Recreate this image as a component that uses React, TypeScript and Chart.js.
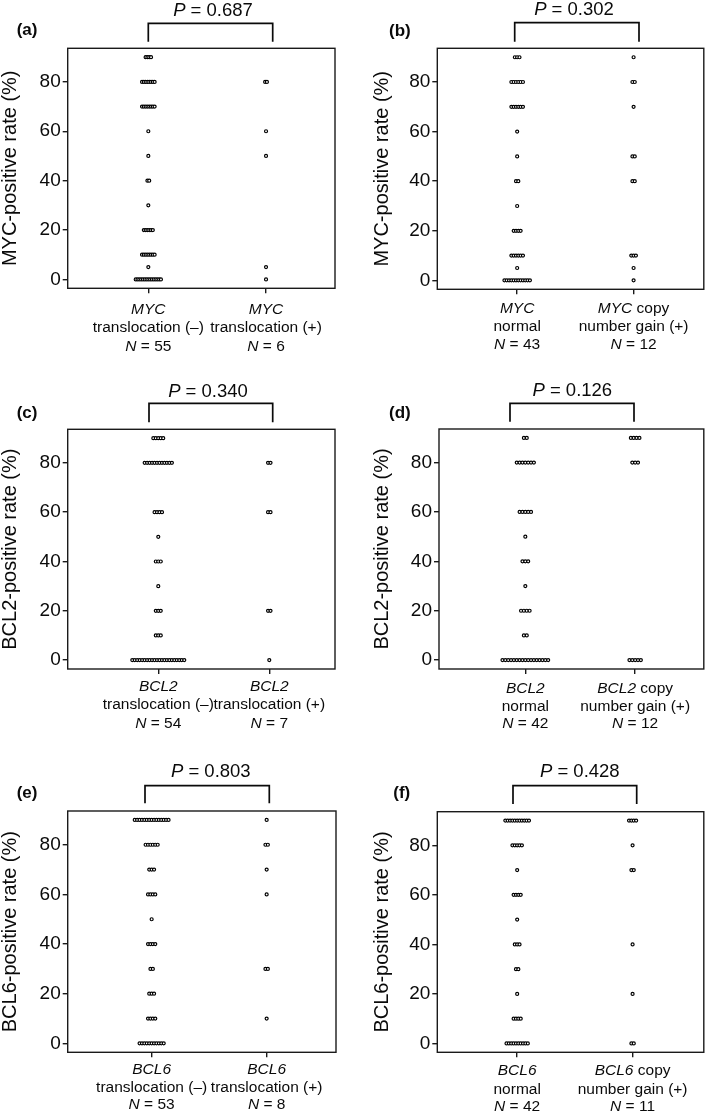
import React, { useEffect, useRef } from 'react';
import { Chart, registerables } from 'chart.js';
Chart.register(...registerables);

const FONT = '"Liberation Sans", Arial, Helvetica, sans-serif';

// ---------- data ----------
const yTicks = [0, 20, 40, 60, 80];
const panelTags = ['(a)', '(b)', '(c)', '(d)', '(e)', '(f)'];
const pValues = ['0.687', '0.302', '0.340', '0.126', '0.803', '0.428'];
const genes = ['MYC', 'MYC', 'BCL2', 'BCL2', 'BCL6', 'BCL6'];
const yTitles = [
  'MYC-positive rate (%)', 'MYC-positive rate (%)',
  'BCL2-positive rate (%)', 'BCL2-positive rate (%)',
  'BCL6-positive rate (%)', 'BCL6-positive rate (%)',
];
const leftGroupText = ['translocation (–)', 'normal', 'translocation (–)', 'normal', 'translocation (–)', 'normal'];
const rightGroupText = ['translocation (+)', 'number gain (+)', 'translocation (+)', 'number gain (+)', 'translocation (+)', 'number gain (+)'];
const rightGroupGeneSuffix = ['', ' copy', '', ' copy', '', ' copy'];
const nLeft = [55, 43, 54, 42, 53, 42];
const nRight = [6, 12, 7, 12, 8, 11];

// (a) MYC translocation
const aLevels1 = [90, 80, 70, 60, 50, 40, 30, 20, 10, 5, 0];
const aCounts1 = [4, 8, 8, 1, 1, 2, 1, 6, 8, 1, 15];
const aLevels2 = [80, 60, 50, 5, 0];
const aCounts2 = [2, 1, 1, 1, 1];
// (b) MYC copy number
const bLevels1 = [90, 80, 70, 60, 50, 40, 30, 20, 10, 5, 0];
const bCounts1 = [3, 6, 6, 1, 1, 2, 1, 4, 6, 1, 12];
const bLevels2 = [90, 80, 70, 50, 40, 10, 5, 0];
const bCounts2 = [1, 2, 1, 2, 2, 3, 1, 1];
// (c) BCL2 translocation
const cLevels1 = [90, 80, 60, 50, 40, 30, 20, 10, 0];
const cCounts1 = [5, 12, 4, 1, 3, 1, 3, 3, 22];
const cLevels2 = [80, 60, 20, 0];
const cCounts2 = [2, 2, 2, 1];
// (d) BCL2 copy number
const dLevels1 = [90, 80, 60, 50, 40, 30, 20, 10, 0];
const dCounts1 = [2, 7, 5, 1, 3, 1, 4, 2, 17];
const dLevels2 = [90, 80, 0];
const dCounts2 = [4, 3, 5];
// (e) BCL6 translocation
const eLevels1 = [90, 80, 70, 60, 50, 40, 30, 20, 10, 0];
const eCounts1 = [15, 6, 3, 4, 1, 4, 2, 3, 4, 11];
const eLevels2 = [90, 80, 70, 60, 30, 10];
const eCounts2 = [1, 2, 1, 1, 2, 1];
// (f) BCL6 copy number
const fLevels1 = [90, 80, 70, 60, 50, 40, 30, 20, 10, 0];
const fCounts1 = [11, 5, 1, 4, 1, 3, 2, 1, 4, 10];
const fLevels2 = [90, 80, 70, 40, 20, 0];
const fCounts2 = [4, 1, 2, 1, 1, 2];

const groupData = [
  [aLevels1, aCounts1, aLevels2, aCounts2],
  [bLevels1, bCounts1, bLevels2, bCounts2],
  [cLevels1, cCounts1, cLevels2, cCounts2],
  [dLevels1, dCounts1, dLevels2, dCounts2],
  [eLevels1, eCounts1, eLevels2, eCounts2],
  [fLevels1, fCounts1, fLevels2, fCounts2],
];

// ---------- layout (positions / sizes only) ----------
type Layout = {
  left: number; top: number; w: number; h: number;
  L: number; R: number; T: number; B: number;
  xMin: number; xMax: number; step: number; titlePad: number;
  br: { y: number; x1: number; x2: number; yb: number };
  pX: number; pY: number; tagX: number; tagY: number; lines: number[];
};
const layouts: Layout[] = [
  { left: 0, top: 0, w: 354, h: 370, L: 67.7, R: 335, T: 48.3, B: 288.3, xMin: 0.315, xMax: 2.586, step: 0.0153, titlePad: 0,
    br: { y: 23.3, x1: 148.3, x2: 272.7, yb: 41.7 }, pX: 213, pY: 11, tagX: 16.7, tagY: 30, lines: [310, 328, 347] },
  { left: 354, top: 0, w: 355, h: 370, L: 83.3, R: 352.7, T: 48.3, B: 289.3, xMin: 0.314, xMax: 2.603, step: 0.0199, titlePad: 18.3,
    br: { y: 22.7, x1: 160.7, x2: 285, yb: 41.7 }, pX: 220, pY: 9.7, tagX: 35, tagY: 31.7, lines: [308.3, 326.7, 345] },
  { left: 0, top: 370, w: 354, h: 370, L: 67.7, R: 335, T: 59.3, B: 299, xMin: 0.184, xMax: 2.592, step: 0.0223, titlePad: 0,
    br: { y: 33.3, x1: 149, x2: 272.7, yb: 52.3 }, pX: 208, pY: 21.7, tagX: 16.7, tagY: 43.3, lines: [316.7, 335, 353.3] },
  { left: 354, top: 370, w: 355, h: 370, L: 85, R: 352.7, T: 59, B: 299, xMin: 0.214, xMax: 2.625, step: 0.026, titlePad: 18.3,
    br: { y: 33.3, x1: 156, x2: 280, yb: 51.7 }, pX: 218.3, pY: 20.7, tagX: 35, tagY: 43.3, lines: [318.3, 336.7, 354] },
  { left: 0, top: 740, w: 354, h: 373, L: 67.7, R: 336, T: 71, B: 312.3, xMin: 0.27, xMax: 2.603, step: 0.021, titlePad: 0,
    br: { y: 45.7, x1: 145, x2: 269.3, yb: 63.3 }, pX: 210.8, pY: 32.3, tagX: 16.7, tagY: 53.3, lines: [329.3, 347.7, 365] },
  { left: 354, top: 740, w: 355, h: 373, L: 83.3, R: 352.7, T: 71.7, B: 312.3, xMin: 0.308, xMax: 2.617, step: 0.0205, titlePad: 18.3,
    br: { y: 45.7, x1: 159, x2: 282.7, yb: 64 }, pX: 225.8, pY: 32.3, tagX: 39.3, tagY: 53.3, lines: [330.7, 349.3, 366.7] },
];

type Seg = { t: string; i?: boolean };

function stackPoints(levels: number[], counts: number[], center: number, step: number) {
  const pts: { x: number; y: number }[] = [];
  levels.forEach((v, idx) => {
    const n = counts[idx];
    for (let k = 0; k < n; k++) pts.push({ x: center + (k - (n - 1) / 2) * step, y: v });
  });
  return pts;
}

function drawMixed(ctx: CanvasRenderingContext2D, segs: Seg[], cx: number, cy: number, size: number) {
  const fonts = segs.map((s) => `${s.i ? 'italic ' : ''}${size}px ${FONT}`);
  const widths = segs.map((s, k) => { ctx.font = fonts[k]; return ctx.measureText(s.t).width; });
  let x = cx - widths.reduce((a, b) => a + b, 0) / 2;
  ctx.textAlign = 'left';
  ctx.textBaseline = 'middle';
  segs.forEach((s, k) => { ctx.font = fonts[k]; ctx.fillText(s.t, x, cy); x += widths[k]; });
}

function makeAnnot(p: number) {
  const lay = layouts[p];
  return {
    id: 'annot' + p,
    afterDraw(chart: any) {
      const ctx: CanvasRenderingContext2D = chart.ctx;
      const { left, top, right, bottom } = chart.chartArea;
      ctx.save();
      ctx.strokeStyle = '#1a1a1a';
      ctx.lineWidth = 1.4;
      ctx.strokeRect(left, top, right - left, bottom - top);
      // bracket
      ctx.lineWidth = 1.7;
      ctx.strokeStyle = '#0a0a0a';
      ctx.beginPath();
      ctx.moveTo(lay.br.x1, lay.br.yb);
      ctx.lineTo(lay.br.x1, lay.br.y);
      ctx.lineTo(lay.br.x2, lay.br.y);
      ctx.lineTo(lay.br.x2, lay.br.yb);
      ctx.stroke();
      ctx.fillStyle = '#0a0a0a';
      drawMixed(ctx, [{ t: 'P', i: true }, { t: ' = ' + pValues[p] }], lay.pX, lay.pY, 18.5);
      // panel tag
      ctx.font = `bold 17px ${FONT}`;
      ctx.textAlign = 'left';
      ctx.textBaseline = 'middle';
      ctx.fillText(panelTags[p], lay.tagX, lay.tagY);
      // x group labels
      const xs = chart.scales.x;
      const g1 = xs.getPixelForValue(1);
      const g2 = xs.getPixelForValue(2);
      const leftLines: Seg[][] = [
        [{ t: genes[p], i: true }],
        [{ t: leftGroupText[p] }],
        [{ t: 'N', i: true }, { t: ' = ' + nLeft[p] }],
      ];
      const rightLines: Seg[][] = [
        rightGroupGeneSuffix[p] ? [{ t: genes[p], i: true }, { t: rightGroupGeneSuffix[p] }] : [{ t: genes[p], i: true }],
        [{ t: rightGroupText[p] }],
        [{ t: 'N', i: true }, { t: ' = ' + nRight[p] }],
      ];
      leftLines.forEach((segs, k) => drawMixed(ctx, segs, g1, lay.lines[k], 15.5));
      rightLines.forEach((segs, k) => drawMixed(ctx, segs, g2, lay.lines[k], 15.5));
      ctx.restore();
    },
  };
}

function buildChart(canvas: HTMLCanvasElement, p: number) {
  const lay = layouts[p];
  const [l1, c1, l2, c2] = groupData[p];
  const pts = [...stackPoints(l1, c1, 1, lay.step), ...stackPoints(l2, c2, 2, lay.step)];
  return new Chart(canvas, {
    type: 'scatter',
    data: {
      datasets: [{
        data: pts,
        pointRadius: 1.5,
        pointBorderWidth: 1.2,
        borderColor: '#000',
        backgroundColor: '#fff',
        showLine: false,
      }],
    },
    options: {
      responsive: false,
      animation: false,
      events: [],
      layout: { padding: { left: 0, top: lay.T, right: lay.w - lay.R, bottom: 0 } },
      plugins: { legend: { display: false }, tooltip: { enabled: false } },
      scales: {
        x: {
          type: 'linear',
          position: 'bottom',
          min: lay.xMin,
          max: lay.xMax,
          afterBuildTicks: (s: any) => { s.ticks = [{ value: 1 }, { value: 2 }]; },
          afterFit: (s: any) => { s.height = lay.h - lay.B; },
          ticks: { display: false },
          grid: { drawOnChartArea: false, drawTicks: true, tickLength: 5, color: '#1a1a1a', lineWidth: 1.4 },
          border: { display: false },
        },
        y: {
          type: 'linear',
          min: -3.6,
          max: 93.6,
          afterBuildTicks: (s: any) => { s.ticks = yTicks.map((v) => ({ value: v })); },
          afterFit: (s: any) => { s.width = lay.L; },
          ticks: { color: '#0a0a0a', padding: 2, font: { family: FONT, size: 19 } },
          grid: { drawOnChartArea: false, drawTicks: true, tickLength: 5, color: '#1a1a1a', lineWidth: 1.4 },
          border: { display: false },
          title: {
            display: true,
            text: yTitles[p],
            color: '#0a0a0a',
            font: { family: FONT, size: 20, lineHeight: 1 },
            padding: { top: lay.titlePad, bottom: 0 },
          },
        },
      },
    },
    plugins: [makeAnnot(p)],
  } as any);
}

export default function App() {
  const refs = useRef<(HTMLCanvasElement | null)[]>([]);
  useEffect(() => {
    const charts = layouts.map((_, p) => buildChart(refs.current[p] as HTMLCanvasElement, p));
    return () => charts.forEach((c) => c.destroy());
  }, []);
  return (
    <div style={{ position: 'absolute', left: 0, top: 0, width: 709, height: 1113, background: '#fff' }}>
      {layouts.map((lay, p) => (
        <canvas
          key={p}
          ref={(el) => { refs.current[p] = el; }}
          width={lay.w}
          height={lay.h}
          style={{ position: 'absolute', left: lay.left, top: lay.top, width: lay.w, height: lay.h }}
        />
      ))}
    </div>
  );
}
